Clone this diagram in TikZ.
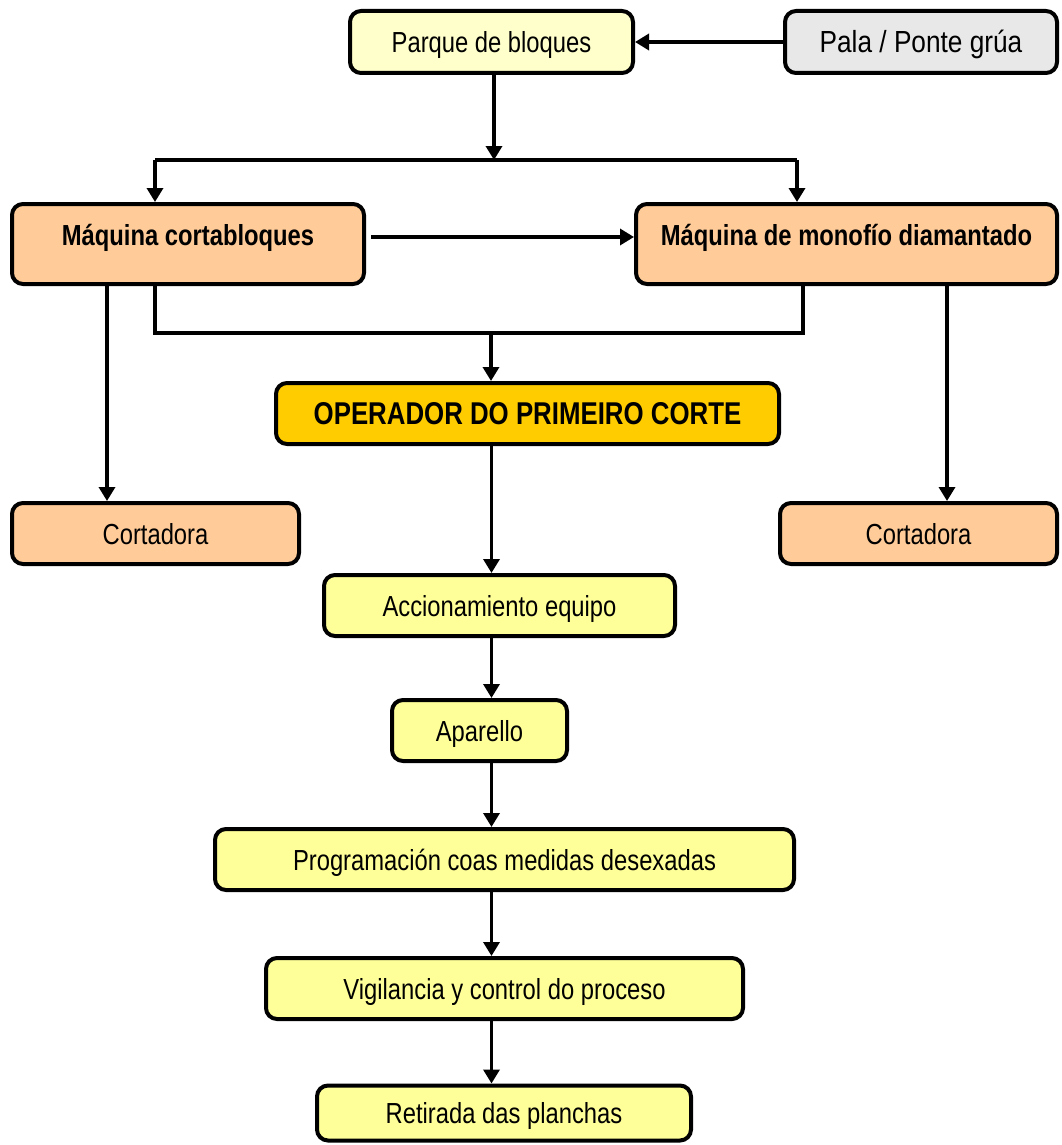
\documentclass[tikz,border=0pt]{standalone}
\usepackage{fontspec}
\setmainfont{Liberation Sans}[FakeStretch=0.82]
\newfontfamily\palafont{Liberation Sans}[FakeStretch=0.86]
\usetikzlibrary{arrows.meta}
\definecolor{lightyel}{HTML}{FFFFCC}
\definecolor{yel}{HTML}{FFFF99}
\definecolor{peach}{HTML}{FFCC99}
\definecolor{gold}{HTML}{FFCC00}
\definecolor{lgray}{HTML}{E8E8E8}
\tikzset{
  box/.style={draw=black, line width=4pt, rounded corners=11pt, inner sep=0pt,
    text height=21pt, text depth=0pt, font=\fontsize{29}{34}\selectfont},
  arr/.style={line width=3.4pt, -{Triangle[length=14pt,width=16pt]}},
  conn/.style={line width=3.4pt},
}
\begin{document}
\begin{tikzpicture}[x=1pt,y=-1pt]
\useasboundingbox (0,0) rectangle (1061,1145);
% boxes
\node[box, fill=lightyel, minimum width=283pt, minimum height=62pt] (parque) at (491.5,42) {Parque de bloques};
\node[box, fill=lgray, minimum width=272pt, minimum height=62pt, text height=21.8pt,
      font=\palafont\fontsize{30.5}{36}\selectfont] (pala) at (921,42) {Pala / Ponte grúa};
\node[box, fill=peach, minimum width=352pt, minimum height=80pt, text depth=19pt,
      font=\bfseries\fontsize{29}{34}\selectfont] (cortab) at (188,244) {Máquina cortabloques};
\node[box, fill=peach, minimum width=421pt, minimum height=80pt, text depth=19pt,
      font=\bfseries\fontsize{29}{34}\selectfont] (monof) at (846.5,244) {Máquina de monofío diamantado};
\node[box, fill=gold, minimum width=503pt, minimum height=61pt, text height=22.5pt,
      font=\bfseries\fontsize{31.5}{37}\selectfont] (oper) at (527.5,413.5) {OPERADOR DO PRIMEIRO CORTE};
\node[box, fill=peach, minimum width=287pt, minimum height=61pt] (cortL) at (155.5,533.5) {Cortadora};
\node[box, fill=peach, minimum width=277pt, minimum height=61pt] (cortR) at (918.5,533.5) {Cortadora};
\node[box, fill=yel, minimum width=351pt, minimum height=61pt] (accion) at (499.5,605.5) {Accionamiento equipo};
\node[box, fill=yel, minimum width=175pt, minimum height=61pt] (aparello) at (479.5,730.5) {Aparello};
\node[box, fill=yel, minimum width=579pt, minimum height=61pt] (program) at (504.5,859.5) {Programación coas medidas desexadas};
\node[box, fill=yel, minimum width=477pt, minimum height=61pt] (vigil) at (504.5,988.5) {Vigilancia y control do proceso};
\node[box, fill=yel, minimum width=374pt, minimum height=55pt] (retir) at (504,1113) {Retirada das planchas};
% helper coordinates
\coordinate (split) at (494,160);
\coordinate (tl) at (155,160);
\coordinate (tr) at (797,160);
\coordinate (bl) at (155,333);
\coordinate (br) at (803,333);
\coordinate (merge) at (491,333);
\coordinate (lcol) at (107,300);
\coordinate (rcol) at (947,300);
\coordinate (axis) at (491.5,0);
% connectors
\draw[arr] (pala) -- (parque);
\draw[arr] (parque.south -| split) -- (split);
\draw[conn] (tl) -- (tr);
\draw[arr] (tl) -- (tl |- cortab.north);
\draw[arr] (tr) -- (tr |- monof.north);
\draw[arr] ([xshift=5pt,yshift=7pt]cortab.east) -- ([yshift=7pt]monof.west);
\draw[conn] (bl |- cortab.south) -- (bl) -- (br) -- (br |- monof.south);
\draw[arr] (merge) -- (merge |- oper.north);
\draw[arr] (lcol |- cortab.south) -- (lcol |- cortL.north);
\draw[arr] (rcol |- monof.south) -- (rcol |- cortR.north);
\draw[arr] (axis |- oper.south) -- (axis |- accion.north);
\draw[arr] (axis |- accion.south) -- (axis |- aparello.north);
\draw[arr] (axis |- aparello.south) -- (axis |- program.north);
\draw[arr] (axis |- program.south) -- (axis |- vigil.north);
\draw[arr] (axis |- vigil.south) -- (axis |- retir.north);
\end{tikzpicture}
\end{document}
